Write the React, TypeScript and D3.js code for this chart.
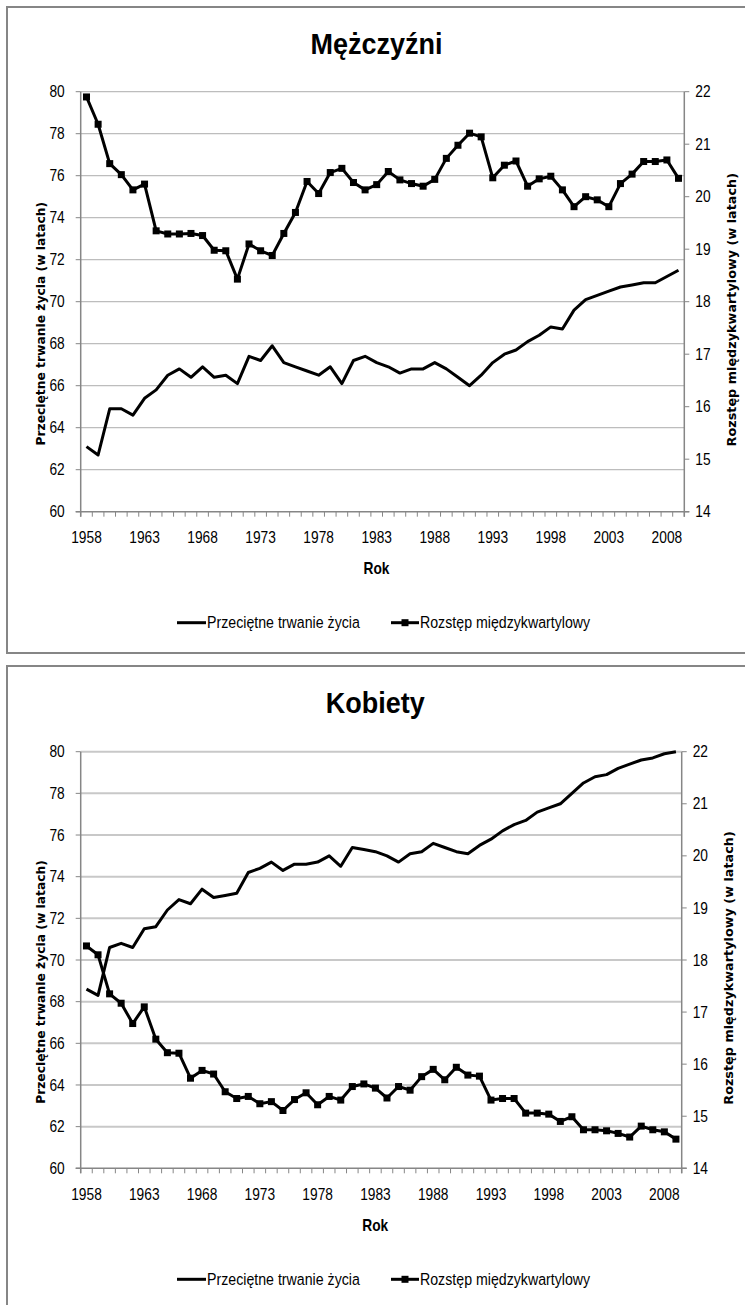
import React, { useEffect, useRef } from 'react';
import * as d3 from 'd3';

const years = [
  1958, 1959, 1960, 1961, 1962, 1963, 1964, 1965, 1966, 1967,
  1968, 1969, 1970, 1971, 1972, 1973, 1974, 1975, 1976, 1977,
  1978, 1979, 1980, 1981, 1982, 1983, 1984, 1985, 1986, 1987,
  1988, 1989, 1990, 1991, 1992, 1993, 1994, 1995, 1996, 1997,
  1998, 1999, 2000, 2001, 2002, 2003, 2004, 2005, 2006, 2007,
  2008, 2009
];
const yearLabels = [1958, 1963, 1968, 1973, 1978, 1983, 1988, 1993, 1998, 2003, 2008];
const leftTicks = [60, 62, 64, 66, 68, 70, 72, 74, 76, 78, 80];
const rightTicks = [14, 15, 16, 17, 18, 19, 20, 21, 22];

// Mężczyźni
const menLife = [
  63.1, 62.7, 64.9, 64.9, 64.6, 65.4, 65.8, 66.5, 66.8, 66.4,
  66.9, 66.4, 66.5, 66.1, 67.4, 67.2, 67.9, 67.1, 66.9, 66.7,
  66.5, 66.9, 66.1, 67.2, 67.4, 67.1, 66.9, 66.6, 66.8, 66.8,
  67.1, 66.8, 66.4, 66.0, 66.5, 67.1, 67.5, 67.7, 68.1, 68.4,
  68.8, 68.7, 69.6, 70.1, 70.3, 70.5, 70.7, 70.8, 70.9, 70.9,
  71.2, 71.5
];
const menIqr = [
  21.9, 21.38, 20.63, 20.42, 20.13, 20.24, 19.35, 19.29, 19.29, 19.3,
  19.26, 18.98, 18.97, 18.43, 19.1, 18.97, 18.88, 19.3, 19.7, 20.29,
  20.06, 20.46, 20.54, 20.27, 20.13, 20.23, 20.48, 20.32, 20.25, 20.2,
  20.33, 20.73, 20.98, 21.21, 21.14, 20.36, 20.6, 20.68, 20.2, 20.34,
  20.39, 20.13, 19.81, 20.0, 19.94, 19.81, 20.25, 20.43, 20.67, 20.67,
  20.7, 20.35
];

// Kobiety
const womenLife = [
  68.6, 68.3, 70.6, 70.8, 70.6, 71.5, 71.6, 72.4, 72.9, 72.7,
  73.4, 73.0, 73.1, 73.2, 74.2, 74.4, 74.7, 74.3, 74.6, 74.6,
  74.7, 75.0, 74.5, 75.4, 75.3, 75.2, 75.0, 74.7, 75.1, 75.2,
  75.6, 75.4, 75.2, 75.1, 75.5, 75.8, 76.2, 76.5, 76.7, 77.1,
  77.3, 77.5, 78.0, 78.5, 78.8, 78.9, 79.2, 79.4, 79.6, 79.7,
  79.9, 80.0
];
const womenIqr = [
  18.27, 18.1, 17.35, 17.17, 16.78, 17.1, 16.48, 16.22, 16.21, 15.73,
  15.88, 15.81, 15.47, 15.34, 15.38, 15.24, 15.28, 15.11, 15.32, 15.45,
  15.22, 15.38, 15.31, 15.57, 15.62, 15.54, 15.35, 15.57, 15.5, 15.76,
  15.9, 15.7, 15.94, 15.79, 15.77, 15.31, 15.34, 15.34, 15.06, 15.06,
  15.04, 14.9, 14.99, 14.74, 14.74, 14.72, 14.67, 14.6, 14.81, 14.74,
  14.7, 14.56
];

// no condensed face installed, so squeeze Liberation Sans horizontally (Calibri-ish look)
const NARROW = "'Liberation Sans', Arial, sans-serif";
const WIDE = "'DejaVu Sans', Verdana, sans-serif";
const SQ = 0.86;

interface PanelProps {
  title: string;
  life: number[];
  iqr: number[];
  frameTop: number;
  frameBottom: number;
  titleY: number;
  top: number;
  bottom: number;
  left: number;
  right: number;
  gridWidth: number;
  gridColor: string;
}

type G = d3.Selection<SVGGElement, unknown, null, undefined>;

const squeezed = (g: G, x: number, y: number, txt: string, size: number, anchor = 'start', bold = false, sx = SQ) =>
  g.append('text')
    .attr('transform', `translate(${x},${y}) scale(${sx},1)`)
    .attr('dy', '0.35em')
    .attr('text-anchor', anchor)
    .style('font-family', NARROW)
    .style('font-size', `${size}px`)
    .style('font-weight', bold ? 'bold' : 'normal')
    .style('fill', '#000')
    .text(txt);

function drawPanel(svg: d3.Selection<SVGSVGElement, unknown, null, undefined>, p: PanelProps) {
  const g = svg.append('g') as G;

  // frame
  g.append('rect')
    .attr('x', 7)
    .attr('y', p.frameTop)
    .attr('width', 760)
    .attr('height', p.frameBottom - p.frameTop)
    .attr('fill', 'white')
    .attr('stroke', '#868686')
    .attr('stroke-width', 2);

  const x = d3.scaleBand<number>().domain(years).range([p.left, p.right]).padding(0);
  const cx = (yr: number) => (x(yr) || 0) + x.bandwidth() / 2;
  const yL = d3.scaleLinear().domain([60, 80]).range([p.bottom, p.top]);
  const yR = d3.scaleLinear().domain([14, 22]).range([p.bottom, p.top]);

  // title
  squeezed(g, (p.left + p.right) / 2 - 6, p.titleY, p.title, 30, 'middle', true, 0.9);

  // gridlines
  g.selectAll('.grid')
    .data(leftTicks.filter(t => t !== 60))
    .enter().append('line')
    .attr('x1', p.left).attr('x2', p.right)
    .attr('y1', d => yL(d)).attr('y2', d => yL(d))
    .attr('stroke', p.gridColor)
    .attr('stroke-width', p.gridWidth);

  // axis lines
  g.append('line').attr('x1', p.left).attr('x2', p.left).attr('y1', p.top).attr('y2', p.bottom + 5)
    .attr('stroke', '#868686').attr('stroke-width', 1.5);
  g.append('line').attr('x1', p.right).attr('x2', p.right).attr('y1', p.top).attr('y2', p.bottom + 5)
    .attr('stroke', '#868686').attr('stroke-width', 1.5);
  g.append('line').attr('x1', p.left - 5).attr('x2', p.right + 5).attr('y1', p.bottom).attr('y2', p.bottom)
    .attr('stroke', '#868686').attr('stroke-width', 1.5);

  // left ticks
  g.selectAll('.lt')
    .data(leftTicks)
    .enter().append('line')
    .attr('x1', p.left - 5).attr('x2', p.left)
    .attr('y1', d => yL(d)).attr('y2', d => yL(d))
    .attr('stroke', '#868686');
  leftTicks.forEach(t => squeezed(g, p.left - 16, yL(t), String(t), 16, 'end'));

  // right ticks
  g.selectAll('.rt')
    .data(rightTicks)
    .enter().append('line')
    .attr('x1', p.right).attr('x2', p.right + 5)
    .attr('y1', d => yR(d)).attr('y2', d => yR(d))
    .attr('stroke', '#868686');
  rightTicks.forEach(t => squeezed(g, p.right + 11, yR(t), String(t), 16, 'start'));

  // bottom category ticks (between years)
  const bounds = years.map(yr => x(yr) || 0).concat([p.right]);
  g.selectAll('.bt')
    .data(bounds)
    .enter().append('line')
    .attr('x1', d => d).attr('x2', d => d)
    .attr('y1', p.bottom).attr('y2', p.bottom + 5)
    .attr('stroke', '#868686');
  yearLabels.forEach(yr => squeezed(g, cx(yr), p.bottom + 26, String(yr), 16, 'middle'));

  // axis titles
  squeezed(g, (p.left + p.right) / 2 - 6, p.bottom + 57, 'Rok', 16, 'middle', true);
  g.append('text')
    .attr('transform', `translate(41,${(p.top + p.bottom) / 2 + 22}) rotate(-90)`)
    .attr('dy', '0.35em')
    .attr('text-anchor', 'middle')
    .style('font-family', WIDE)
    .style('font-weight', 'bold')
    .style('font-size', '12.3px')
    .text('Przeciętne trwanie życia (w latach)');
  g.append('text')
    .attr('transform', `translate(${p.right + 47},${(p.top + p.bottom) / 2 + 8}) rotate(-90)`)
    .attr('dy', '0.35em')
    .attr('text-anchor', 'middle')
    .style('font-family', WIDE)
    .style('font-weight', 'bold')
    .style('font-size', '12.8px')
    .text('Rozstęp międzykwartylowy (w latach)');

  // series
  const lifeLine = d3.line<number>().x((_, i) => cx(years[i])).y(d => yL(d));
  const iqrLine = d3.line<number>().x((_, i) => cx(years[i])).y(d => yR(d));

  g.append('path')
    .attr('d', lifeLine(p.life) || '')
    .attr('fill', 'none')
    .attr('stroke', '#000')
    .attr('stroke-width', 3)
    .attr('stroke-linejoin', 'round');
  g.append('path')
    .attr('d', iqrLine(p.iqr) || '')
    .attr('fill', 'none')
    .attr('stroke', '#000')
    .attr('stroke-width', 3)
    .attr('stroke-linejoin', 'round');
  g.selectAll('.mk')
    .data(p.iqr)
    .enter().append('rect')
    .attr('x', (_, i) => cx(years[i]) - 3.5)
    .attr('y', d => yR(d) - 3.5)
    .attr('width', 7)
    .attr('height', 7)
    .attr('fill', '#000');

  // legend
  const ly = p.bottom + 111;
  g.append('line').attr('x1', 177).attr('x2', 206).attr('y1', ly).attr('y2', ly)
    .attr('stroke', '#000').attr('stroke-width', 3);
  squeezed(g, 207, ly, 'Przeciętne trwanie życia', 16.5, 'start');
  g.append('line').attr('x1', 391).attr('x2', 419).attr('y1', ly).attr('y2', ly)
    .attr('stroke', '#000').attr('stroke-width', 3);
  g.append('rect').attr('x', 401.5).attr('y', ly - 3.5).attr('width', 7).attr('height', 7).attr('fill', '#000');
  squeezed(g, 420, ly, 'Rozstęp międzykwartylowy', 16.5, 'start');
}

const App: React.FC = () => {
  const svgRef = useRef<SVGSVGElement>(null);

  useEffect(() => {
    if (!svgRef.current) return;
    const svg = d3.select(svgRef.current);
    svg.selectAll('*').remove();

    drawPanel(svg, {
      title: 'Mężczyźni', life: menLife, iqr: menIqr,
      frameTop: 7, frameBottom: 653, titleY: 43,
      top: 91.7, bottom: 511.7, left: 80.7, right: 684.3,
      gridWidth: 1.2, gridColor: '#bdbdbd'
    });
    drawPanel(svg, {
      title: 'Kobiety', life: womenLife, iqr: womenIqr,
      frameTop: 666, frameBottom: 1320, titleY: 702,
      top: 751.7, bottom: 1168.3, left: 80.7, right: 681.7,
      gridWidth: 2, gridColor: '#c8c8c8'
    });
  }, []);

  return (
    <div style={{ position: 'absolute', left: 0, top: 0 }}>
      <svg ref={svgRef} width={745} height={1305} style={{ display: 'block', background: 'white' }}></svg>
    </div>
  );
};

export default App;
